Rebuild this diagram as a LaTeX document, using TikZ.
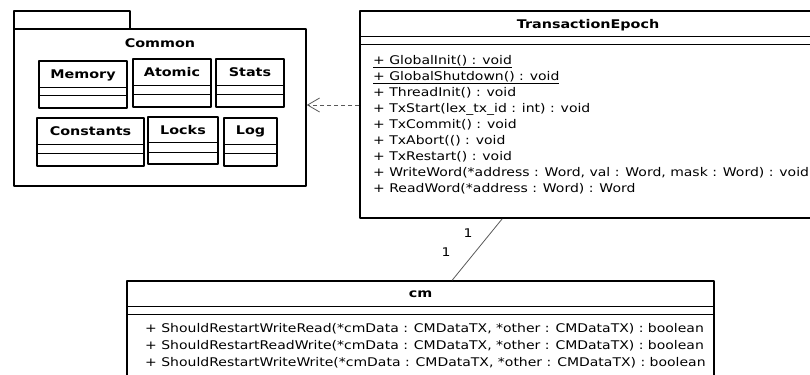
\documentclass[tikz,border=0pt]{standalone}
\usepackage{fontspec}
\setmainfont{DejaVu Sans}
\newfontfamily\umlfont[FakeStretch=1.17]{DejaVu Sans}
\newfontfamily\umlnamefont[FakeStretch=1.2]{DejaVu Sans}
\usetikzlibrary{arrows.meta}
\tikzset{
  classbox/.style={draw,line width=1.6bp,inner sep=0pt},
  pkgbox/.style={draw,line width=1.6bp,inner sep=0pt},
  classname/.style={inner sep=0pt,font=\umlnamefont\fontsize{12}{14}\selectfont\bfseries},
  opslist/.style={inner sep=0pt,align=left,anchor=north west,font=\umlfont\fontsize{12}{16.1}\selectfont},
  sepline/.style={line width=0.8bp},
  dep/.style={draw=black!65,line width=0.8bp,dash pattern=on 4bp off 3bp,-{Straight Barb[length=12bp,width=14bp]}},
  assoc/.style={draw=black!65,line width=0.8bp},
  mult/.style={inner sep=0pt,font=\umlfont\fontsize{12}{14}\selectfont},
}
\begin{document}
\begin{tikzpicture}[>=latex,line join=bevel,x=1bp,y=-1bp]
\useasboundingbox (0,0) rectangle (810,374);
%% package Common
\draw [pkgbox] (14,11) rectangle (130,29);
\node (common) at (160,107.5) [pkgbox,minimum width=292bp,minimum height=157bp] {};
\node (common_lbl) at (160,43.5) [classname] {Common};
%
\node (memory) at (83,84.5) [classbox,minimum width=88bp,minimum height=47bp] {};
\node (memory_lbl) at (83,75) [classname] {Memory};
\draw [sepline] (memory.west |- 0,87) -- (memory.east |- 0,87);
\draw [sepline] (memory.west |- 0,95) -- (memory.east |- 0,95);
\node (atomic) at (172,83) [classbox,minimum width=78bp,minimum height=48bp] {};
\node (atomic_lbl) at (172,72.5) [classname] {Atomic};
\draw [sepline] (atomic.west |- 0,85) -- (atomic.east |- 0,85);
\draw [sepline] (atomic.west |- 0,94) -- (atomic.east |- 0,94);
\node (stats) at (250,83) [classbox,minimum width=68bp,minimum height=48bp] {};
\node (stats_lbl) at (250,72.5) [classname] {Stats};
\draw [sepline] (stats.west |- 0,85) -- (stats.east |- 0,85);
\draw [sepline] (stats.west |- 0,94) -- (stats.east |- 0,94);
\node (constants) at (90.5,142) [classbox,minimum width=107bp,minimum height=48bp] {};
\node (constants_lbl) at (90.5,131.5) [classname] {Constants};
\draw [sepline] (constants.west |- 0,144) -- (constants.east |- 0,144);
\draw [sepline] (constants.west |- 0,153) -- (constants.east |- 0,153);
\node (locks) at (183,140.5) [classbox,minimum width=70bp,minimum height=47bp] {};
\node (locks_lbl) at (183,130) [classname] {Locks};
\draw [sepline] (locks.west |- 0,142) -- (locks.east |- 0,142);
\draw [sepline] (locks.west |- 0,152) -- (locks.east |- 0,152);
\node (log) at (250.5,142) [classbox,minimum width=53bp,minimum height=48bp] {};
\node (log_lbl) at (250.5,131.5) [classname] {Log};
\draw [sepline] (log.west |- 0,144) -- (log.east |- 0,144);
\draw [sepline] (log.west |- 0,153) -- (log.east |- 0,153);
%% TransactionEpoch
\node (te) at (588,114.5) [classbox,minimum width=456bp,minimum height=207bp] {};
\node (te_lbl) at (588,25) [classname] {TransactionEpoch};
\draw [sepline] (te.west |- 0,36) -- (te.east |- 0,36);
\draw [sepline] (te.west |- 0,44) -- (te.east |- 0,44);
\node (te_ops) at (373,55) [opslist] {\underline{+ GlobalInit() : void}\\
  \underline{+ GlobalShutdown() : void}\\
  + ThreadInit() : void\\
  + TxStart(lex\_tx\_id : int) : void\\
  + TxCommit() : void\\
  + TxAbort(() : void\\
  + TxRestart() : void\\
  + WriteWord(*address : Word, val : Word, mask : Word) : void\\
  + ReadWord(*address : Word) : Word};
%% cm
\node (cm) at (420.5,331) [classbox,minimum width=587bp,minimum height=100bp] {};
\node (cm_lbl) at (420.5,294) [classname] {cm};
\draw [sepline] (cm.west |- 0,306) -- (cm.east |- 0,306);
\draw [sepline] (cm.west |- 0,314) -- (cm.east |- 0,314);
\node (cm_ops) at (145,323) [opslist,font=\umlfont\fontsize{12}{17}\selectfont] {+ ShouldRestartWriteRead(*cmData : CMDataTX, *other : CMDataTX) : boolean\\
  + ShouldRestartReadWrite(*cmData : CMDataTX, *other : CMDataTX) : boolean\\
  + ShouldRestartWriteWrite(*cmData : CMDataTX, *other : CMDataTX) : boolean};
%% relations
\draw [dep] ([yshift=9.5bp]te.west) -- ([yshift=9.5bp]te.west -| common.east);
\draw [assoc] ([xshift=143bp]te.south west) -- ([xshift=326bp]cm.north west);
\node (m_te) at (468,233) [mult] {1};
\node (m_cm) at (446,252) [mult] {1};
%
\end{tikzpicture}
\end{document}
